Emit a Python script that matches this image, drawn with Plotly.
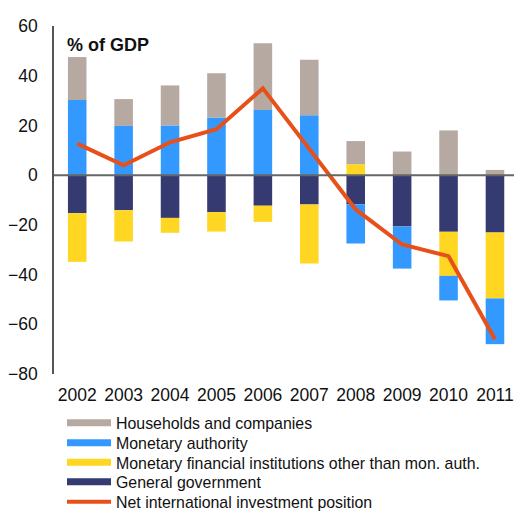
import plotly.graph_objects as go

years = ["2002", "2003", "2004", "2005", "2006", "2007", "2008", "2009", "2010", "2011"]
households = [17.3, 10.8, 16.1, 17.8, 26.9, 22.3, 9.3, 9.5, 18.0, 2.1]
monetary_authority = [30.2, 19.8, 20.0, 23.2, 26.2, 24.1, -15.8, -16.9, -9.9, -18.4]
mfi_other = [-19.6, -12.6, -6.0, -7.8, -6.5, -23.7, 4.4, 0.0, -17.7, -26.5]
general_gov = [-15.3, -14.1, -17.2, -14.9, -12.3, -11.8, -11.7, -20.7, -22.8, -23.1]
net_iip = [12.7, 4.0, 13.2, 18.5, 34.9, 10.4, -13.8, -27.9, -32.6, -66.0]

names = {
    "hh": "Households and companies",
    "ma": "Monetary authority",
    "mfi": "Monetary financial institutions other than mon. auth.",
    "gg": "General government",
    "net": "Net international investment position",
}
colors = {"hh": "#B5A9A1", "ma": "#3399FF", "mfi": "#FFD622", "gg": "#353B71", "net": "#E8501A"}

FONT = "Liberation Sans, Arial, sans-serif"
W, H = 514, 511
fig = go.Figure()

# stacked bars (order chosen so negative stack is navy, yellow, blue from zero)
for key, vals in [("gg", general_gov), ("mfi", mfi_other), ("ma", monetary_authority), ("hh", households)]:
    fig.add_trace(go.Bar(x=years, y=vals, name=names[key], marker=dict(color=colors[key], line=dict(width=0)),
                         showlegend=False))

fig.add_trace(go.Scatter(x=years, y=net_iip, mode="lines", name=names["net"],
                         line=dict(color=colors["net"], width=4), showlegend=False))

# legend entries (wide line symbols, one legend per row, positioned in container coords)
legend_rows = [("hh", 423), ("ma", 443), ("mfi", 462.5), ("gg", 482), ("net", 502)]
for i, (key, ypx) in enumerate(legend_rows):
    lname = "legend" if i == 0 else f"legend{i+1}"
    fig.add_trace(go.Scatter(x=[None], y=[None], mode="lines", name=names[key],
                             line=dict(color=colors[key], width=7 if key != "net" else 4),
                             legend=lname, showlegend=True))
    fig.update_layout(**{lname: dict(
        xref="container", x=62 / W, xanchor="left",
        yref="container", y=1 - ypx / H, yanchor="middle",
        font=dict(family=FONT, size=15.9, color="#111"),
        itemwidth=44, bgcolor="rgba(0,0,0,0)", borderwidth=0,
        tracegroupgap=0,
    )})

fig.update_layout(
    barmode="relative",
    bargap=0.6,
    width=W, height=H,
    margin=dict(l=54, r=0, t=26, b=137, autoexpand=False),
    paper_bgcolor="white", plot_bgcolor="white",
    font=dict(family=FONT, color="#111"),
    xaxis=dict(type="category", range=[-0.5, 9.41], showgrid=False, showline=False, zeroline=False,
               ticks="outside", ticklen=5, tickcolor="rgba(0,0,0,0)",
               tickfont=dict(size=17.5, family=FONT, color="#111")),
    yaxis=dict(range=[-80, 60], dtick=20, showgrid=False, zeroline=False, showline=True,
               linecolor="#555", linewidth=1.5,
               ticks="outside", ticklen=11, tickcolor="rgba(0,0,0,0)",
               tickfont=dict(size=17.5, family=FONT, color="#111")),
    shapes=[dict(type="line", xref="paper", x0=0, x1=1, yref="y", y0=0, y1=0,
                 line=dict(color="#666", width=2), layer="above")],
    annotations=[dict(text="<b>% of GDP</b>", xref="paper", yref="paper",
                      x=(65 - 54) / 460, y=(374 - 45) / 348, xanchor="left", yanchor="middle",
                      showarrow=False, font=dict(family=FONT, size=18, color="#111"))],
)

page_fix = "document.body.style.margin='0px';document.documentElement.style.overflow='hidden';"
fig.write_html("out.html", config={"displayModeBar": False}, post_script=page_fix)
